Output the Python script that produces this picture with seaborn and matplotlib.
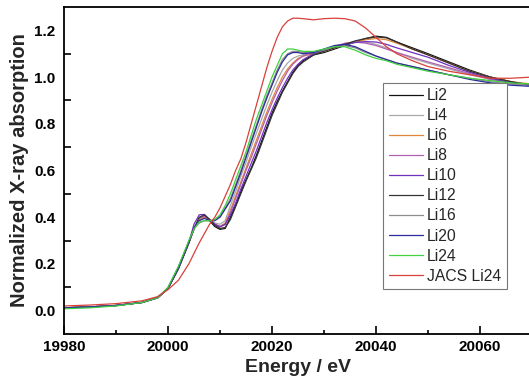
"""
XANES comparison: normalized X-ray absorption vs energy for the Li series.
"""

import pandas as pd
import matplotlib.pyplot as plt
import seaborn as sns

# Config
OUT_FILE = 'out.png'

# Data
energy = [19980, 19985, 19990, 19995, 19998, 20000, 20002, 20004, 20005, 20006,
          20007, 20008, 20009, 20010, 20011, 20012, 20013, 20014, 20015, 20016,
          20017, 20018, 20019, 20020, 20021, 20022, 20023, 20024, 20025, 20026,
          20028, 20030, 20032, 20034, 20036, 20038, 20040, 20042, 20044, 20047,
          20050, 20054, 20058, 20062, 20066, 20070]

li2 = [0.012, 0.016, 0.022, 0.035, 0.055, 0.095, 0.18, 0.29, 0.35, 0.395,
       0.405, 0.385, 0.36, 0.348, 0.352, 0.40, 0.45, 0.51, 0.56, 0.61,
       0.665, 0.725, 0.785, 0.845, 0.895, 0.94, 0.98, 1.02, 1.05, 1.07,
       1.095, 1.105, 1.12, 1.135, 1.15, 1.165, 1.175, 1.17, 1.15, 1.125,
       1.10, 1.065, 1.03, 1.0, 0.98, 0.965]
li4 = [0.012, 0.016, 0.022, 0.035, 0.055, 0.095, 0.18, 0.29, 0.35, 0.39,
       0.40, 0.39, 0.375, 0.37, 0.385, 0.45, 0.51, 0.575, 0.635, 0.70,
       0.76, 0.82, 0.88, 0.935, 0.985, 1.03, 1.06, 1.08, 1.09, 1.095,
       1.10, 1.11, 1.125, 1.14, 1.15, 1.15, 1.14, 1.125, 1.105, 1.08,
       1.06, 1.035, 1.01, 0.99, 0.975, 0.965]
li6 = [0.012, 0.016, 0.022, 0.035, 0.055, 0.095, 0.18, 0.29, 0.35, 0.39,
       0.40, 0.39, 0.37, 0.36, 0.375, 0.43, 0.49, 0.55, 0.61, 0.67,
       0.73, 0.79, 0.85, 0.905, 0.955, 1.0, 1.035, 1.06, 1.08, 1.09,
       1.10, 1.11, 1.125, 1.14, 1.15, 1.16, 1.165, 1.16, 1.145, 1.12,
       1.095, 1.06, 1.025, 1.0, 0.98, 0.97]
li8 = [0.012, 0.016, 0.022, 0.035, 0.055, 0.095, 0.18, 0.29, 0.35, 0.395,
       0.405, 0.39, 0.37, 0.358, 0.368, 0.42, 0.48, 0.54, 0.60, 0.655,
       0.715, 0.775, 0.835, 0.89, 0.94, 0.985, 1.025, 1.055, 1.075, 1.09,
       1.105, 1.115, 1.13, 1.145, 1.15, 1.145, 1.135, 1.12, 1.105, 1.085,
       1.065, 1.04, 1.015, 0.99, 0.975, 0.965]
li10 = [0.012, 0.016, 0.022, 0.035, 0.055, 0.095, 0.18, 0.29, 0.37, 0.41,
        0.412, 0.39, 0.37, 0.36, 0.37, 0.41, 0.46, 0.52, 0.575, 0.63,
        0.685, 0.745, 0.805, 0.86, 0.91, 0.955, 0.995, 1.03, 1.055, 1.075,
        1.10, 1.115, 1.13, 1.14, 1.148, 1.152, 1.15, 1.14, 1.125, 1.105,
        1.085, 1.05, 1.02, 0.995, 0.975, 0.965]
li12 = [0.012, 0.016, 0.022, 0.035, 0.055, 0.095, 0.18, 0.29, 0.35, 0.40,
        0.41, 0.39, 0.365, 0.352, 0.356, 0.39, 0.445, 0.50, 0.555, 0.605,
        0.655, 0.715, 0.775, 0.835, 0.885, 0.935, 0.975, 1.015, 1.045, 1.065,
        1.095, 1.11, 1.125, 1.14, 1.155, 1.165, 1.172, 1.168, 1.15, 1.12,
        1.095, 1.06, 1.025, 1.0, 0.98, 0.965]
li16 = [0.012, 0.016, 0.022, 0.035, 0.055, 0.098, 0.185, 0.295, 0.35, 0.375,
        0.385, 0.385, 0.39, 0.405, 0.44, 0.48, 0.54, 0.60, 0.665, 0.73,
        0.795, 0.86, 0.92, 0.975, 1.03, 1.075, 1.10, 1.11, 1.11, 1.105,
        1.105, 1.115, 1.13, 1.135, 1.125, 1.105, 1.09, 1.075, 1.06, 1.045,
        1.03, 1.01, 0.995, 0.98, 0.97, 0.965]
li20 = [0.012, 0.016, 0.022, 0.035, 0.055, 0.098, 0.185, 0.295, 0.355, 0.385,
        0.395, 0.385, 0.385, 0.40, 0.435, 0.47, 0.53, 0.59, 0.655, 0.72,
        0.785, 0.85, 0.91, 0.965, 1.02, 1.065, 1.095, 1.105, 1.105, 1.10,
        1.105, 1.12, 1.135, 1.14, 1.13, 1.11, 1.09, 1.075, 1.06, 1.045,
        1.03, 1.01, 0.99, 0.975, 0.965, 0.96]
li24 = [0.008, 0.012, 0.02, 0.035, 0.055, 0.10, 0.19, 0.30, 0.35, 0.38,
        0.385, 0.385, 0.39, 0.41, 0.45, 0.50, 0.56, 0.62, 0.68, 0.75,
        0.82, 0.88, 0.94, 1.0, 1.05, 1.10, 1.12, 1.12, 1.115, 1.11,
        1.11, 1.12, 1.13, 1.13, 1.115, 1.095, 1.08, 1.07, 1.055, 1.04,
        1.025, 1.01, 0.995, 0.985, 0.975, 0.97]
jacs_li24 = [0.02, 0.024, 0.03, 0.042, 0.06, 0.09, 0.13, 0.20, 0.245, 0.29,
             0.33, 0.37, 0.40, 0.44, 0.49, 0.54, 0.60, 0.65, 0.72, 0.80,
             0.88, 0.96, 1.04, 1.11, 1.17, 1.215, 1.24, 1.252, 1.252, 1.25,
             1.245, 1.25, 1.252, 1.25, 1.24, 1.21, 1.17, 1.13, 1.10, 1.07,
             1.045, 1.025, 1.01, 0.995, 0.995, 1.0]

labels = ['Li2', 'Li4', 'Li6', 'Li8', 'Li10', 'Li12', 'Li16', 'Li20', 'Li24',
          'JACS Li24']
series = [li2, li4, li6, li8, li10, li12, li16, li20, li24, jacs_li24]
colors = ['#111111', '#a8a8a8', '#e0853a', '#b060b0', '#7030c0', '#333333',
          '#8c8c8c', '#2a2a9a', '#40d040', '#d8403a']


def build_frame():
    frames = []
    for name, values in zip(labels, series):
        frames.append(pd.DataFrame({'Energy': energy, 'Absorption': values,
                                    'Sample': name}))
    return pd.concat(frames, ignore_index=True)


def plot_xanes(df):
    sns.set_style('ticks')
    plt.rcParams['font.family'] = ['Liberation Sans', 'DejaVu Sans']

    fig = plt.figure(figsize=(5.29, 3.85), dpi=100)
    ax = fig.add_axes([64 / 529, 51 / 385, 468 / 529, 327 / 385])

    sns.lineplot(data=df, x='Energy', y='Absorption', hue='Sample',
                 hue_order=labels, palette=dict(zip(labels, colors)),
                 linewidth=0.9, sort=False, ax=ax)

    ax.set_xlim(19980, 20070)
    ax.set_ylim(-0.1, 1.3)
    ax.set_xticks([19980, 20000, 20020, 20040, 20060])
    ax.set_xticks([19990, 20010, 20030, 20050], minor=True)
    ax.set_yticks([0.0, 0.2, 0.4, 0.6, 0.8, 1.0, 1.2])
    ax.set_yticks([0.1, 0.3, 0.5, 0.7, 0.9, 1.1], minor=True)
    ax.set_yticklabels([f'{v:.1f}' for v in ax.get_yticks()])

    ax.tick_params(axis='both', which='both', direction='in', width=1.2,
                   labelsize=11, colors='black')
    ax.tick_params(axis='x', which='major', length=6, pad=4)
    ax.tick_params(axis='x', which='minor', length=3)
    ax.tick_params(axis='y', which='major', length=0, pad=6)
    ax.tick_params(axis='y', which='minor', length=5)
    for lbl in ax.get_xticklabels() + ax.get_yticklabels():
        lbl.set_fontweight('bold')

    for side in ['left', 'bottom', 'top', 'right']:
        ax.spines[side].set_visible(True)
        ax.spines[side].set_linewidth(1.3)
        ax.spines[side].set_color('black')

    ax.set_xlabel('Energy / eV', fontsize=14, fontweight='bold', labelpad=4)
    ax.set_ylabel('Normalized X-ray absorption', fontsize=14.5,
                  fontweight='bold', labelpad=4)

    leg = ax.legend(loc='upper left', bbox_to_anchor=(0.682, 0.768),
                    fontsize=11.3, frameon=True, fancybox=False,
                    edgecolor='#777777', framealpha=1, handlelength=2.2,
                    handletextpad=0.25, labelspacing=0.32, borderpad=0.35,
                    borderaxespad=0)
    leg.get_frame().set_linewidth(0.8)

    fig.savefig(OUT_FILE, dpi=100)
    plt.close(fig)


def main():
    df = build_frame()
    plot_xanes(df)


if __name__ == '__main__':
    main()
